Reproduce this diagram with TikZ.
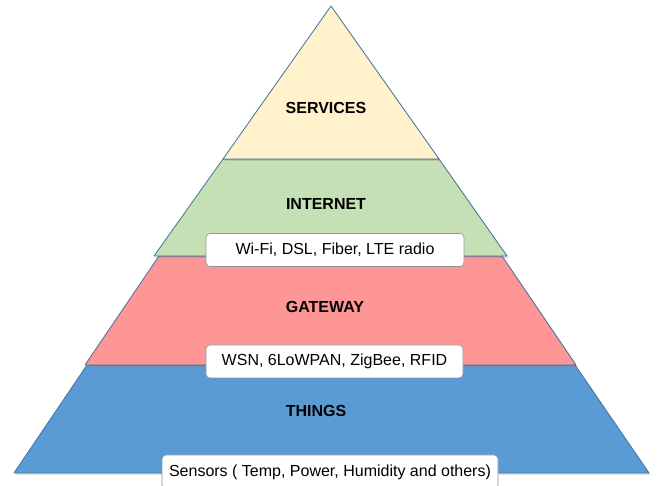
\documentclass[tikz,border=0pt]{standalone}
\usepackage{fontspec}
\setmainfont{Liberation Sans}
\usetikzlibrary{positioning,shadows}
\definecolor{layeredge}{RGB}{65,113,156}
\definecolor{servicesfill}{RGB}{255,242,204}
\definecolor{internetfill}{RGB}{197,224,180}
\definecolor{gatewayfill}{RGB}{255,150,150}
\definecolor{thingsfill}{RGB}{91,155,213}
\definecolor{tagedge}{RGB}{140,150,160}

\begin{document}
\begin{tikzpicture}[x=1pt,y=-1pt,
  layer/.style={draw=layeredge,line width=0.8pt,line join=round,
    drop shadow={opacity=0.25,shadow xshift=2pt,shadow yshift=-2pt}},
  title/.style={font=\fontsize{16}{19}\selectfont\bfseries},
  tag/.style={draw=tagedge,fill=white,rounded corners=4pt,line width=0.6pt,
    font=\fontsize{16}{19}\selectfont,minimum height=33pt,inner sep=0pt}]
\useasboundingbox (0,0) rectangle (657,486);

% Pyramid layers, bottom first
\draw[layer,fill=thingsfill] (87,365) -- (575,365) -- (649,473) -- (14,473) -- cycle;
\draw[layer,fill=gatewayfill] (159,256) -- (502,256) -- (576,365) -- (85,365) -- cycle;
\draw[layer,fill=internetfill] (223,159) -- (439,159) -- (507,256) -- (154,256) -- cycle;
\draw[layer,fill=servicesfill] (331,6) -- (439,159) -- (223,159) -- cycle;

% Layer titles
\node[title] (services) at (326,108) {SERVICES};
\node[title] (internet) at (326,204) {INTERNET};
\node[title] (gateway) at (325,307) {GATEWAY};
\node[title] (things) at (316,411) {THINGS};

% Technology tags
\node[tag,minimum width=258pt] (wifi) at (335,250) {Wi-Fi, DSL, Fiber, LTE radio};
\node[tag,minimum width=257pt] (wsn) at (334.5,361.5) {WSN, 6LoWPAN, ZigBee, RFID};
\node[tag,minimum width=336pt,minimum height=34pt] (sensors) at (330,472) {Sensors ( Temp, Power, Humidity and others)};
\end{tikzpicture}
\end{document}
